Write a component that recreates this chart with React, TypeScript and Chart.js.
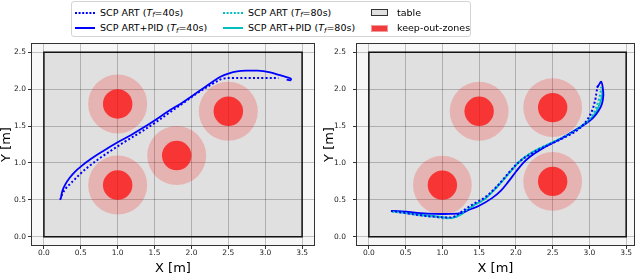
import React, { useEffect, useRef } from 'react';
import { Chart, registerables } from 'chart.js';
Chart.register(...registerables);

type Pt = [number, number];

// ---- axes / table ----
const X_TICKS = [0, 0.5, 1, 1.5, 2, 2.5, 3, 3.5];
const Y_TICKS = [0, 0.5, 1, 1.5, 2, 2.5];
const TABLE_X = [0, 3.5];
const TABLE_Y = [0, 2.5];

// ---- keep-out zones ----
const KOZ_INNER_R = 0.2;
const KOZ_OUTER_R = 0.4;
const LEFT_KOZ_X = [1.0, 1.0, 1.8, 2.5];
const LEFT_KOZ_Y = [1.8, 0.7, 1.1, 1.7];
const RIGHT_KOZ_X = [1.0, 1.5, 2.5, 2.5];
const RIGHT_KOZ_Y = [0.7, 1.7, 1.75, 0.75];

// ---- left panel trajectories ----
const LEFT_ART_40: Pt[] = [
  [0.22, 0.5], [0.25, 0.58], [0.3, 0.66], [0.36, 0.72], [0.42, 0.78], [0.5, 0.86], [0.63, 0.97],
  [0.78, 1.08], [0.93, 1.18], [1.1, 1.29], [1.3, 1.41], [1.5, 1.54], [1.7, 1.68], [1.9, 1.82],
  [2.1, 1.96], [2.3, 2.08], [2.42, 2.14], [2.55, 2.15], [2.8, 2.15], [3.0, 2.15], [3.18, 2.15],
];
const LEFT_PID_40: Pt[] = [
  [0.23, 0.52], [0.25, 0.62], [0.29, 0.71], [0.35, 0.8], [0.42, 0.88], [0.5, 0.95], [0.63, 1.05],
  [0.8, 1.16], [1.0, 1.28], [1.2, 1.39], [1.4, 1.51], [1.5, 1.575], [1.7, 1.71], [1.85, 1.8],
  [2.0, 1.9], [2.2, 2.04], [2.4, 2.17], [2.5, 2.21], [2.62, 2.24], [2.75, 2.25], [2.9, 2.25],
  [3.05, 2.23], [3.2, 2.19], [3.3, 2.16], [3.35, 2.14], [3.34, 2.12], [3.29, 2.13],
];

// ---- right panel trajectories ----
const RIGHT_ART_40: Pt[] = [
  [0.3, 0.35], [0.5, 0.32], [0.7, 0.29], [0.9, 0.27], [1.05, 0.26], [1.15, 0.27], [1.25, 0.33],
  [1.35, 0.4], [1.45, 0.46], [1.56, 0.52], [1.7, 0.64], [1.82, 0.77], [1.94, 0.91], [2.05, 1.02],
  [2.2, 1.12], [2.35, 1.2], [2.5, 1.27], [2.65, 1.34], [2.8, 1.42], [2.9, 1.5], [2.98, 1.6],
  [3.04, 1.72], [3.08, 1.86], [3.1, 1.98], [3.12, 2.05],
];
const RIGHT_PID_40: Pt[] = [
  [0.31, 0.35], [0.5, 0.34], [0.7, 0.32], [0.9, 0.31], [1.1, 0.31], [1.25, 0.32], [1.35, 0.36],
  [1.5, 0.42], [1.67, 0.52], [1.8, 0.63], [1.9, 0.75], [2.0, 0.88], [2.1, 1.0], [2.2, 1.09],
  [2.35, 1.19], [2.5, 1.27], [2.65, 1.35], [2.8, 1.44], [2.95, 1.53], [3.05, 1.61], [3.12, 1.7],
  [3.17, 1.8], [3.19, 1.92], [3.18, 2.03], [3.16, 2.1], [3.13, 2.06], [3.1, 2.02],
];
const RIGHT_ART_80: Pt[] = [
  [0.32, 0.34], [0.5, 0.32], [0.7, 0.29], [0.9, 0.27], [1.05, 0.25], [1.15, 0.26], [1.25, 0.31],
  [1.35, 0.38], [1.45, 0.44], [1.56, 0.5], [1.7, 0.63], [1.82, 0.76], [1.94, 0.9], [2.05, 1.02],
  [2.2, 1.13], [2.35, 1.21], [2.5, 1.28], [2.65, 1.35], [2.8, 1.43], [2.9, 1.5], [3.0, 1.59],
  [3.07, 1.7], [3.12, 1.83], [3.15, 1.95], [3.16, 2.03],
];
const RIGHT_PID_80: Pt[] = [
  [0.32, 0.35], [0.5, 0.33], [0.7, 0.3], [0.9, 0.28], [1.05, 0.26], [1.15, 0.26], [1.25, 0.3],
  [1.35, 0.37], [1.45, 0.44], [1.56, 0.5], [1.7, 0.63], [1.82, 0.76], [1.94, 0.9], [2.05, 1.02],
  [2.2, 1.13], [2.35, 1.21], [2.5, 1.28], [2.65, 1.35], [2.8, 1.44], [2.92, 1.52], [3.02, 1.6],
  [3.09, 1.69], [3.14, 1.8], [3.17, 1.9], [3.18, 2.0],
];

const BLUE = '#0000ff';
const CYAN = '#00bfbf';
const FONT = '"DejaVu Sans", sans-serif';

type LineSpec = { pts: Pt[]; color: string; dotted: boolean; order: number };
type PanelSpec = {
  kozX: number[];
  kozY: number[];
  lines: LineSpec[];
  xMin: number;
  xMax: number;
  yAxisWidth: number;
  yTitlePad: number;
  yTickPad: number;
};

function tableRect(chart: any) {
  const x = chart.scales.x, y = chart.scales.y;
  const x0 = x.getPixelForValue(TABLE_X[0]);
  const x1 = x.getPixelForValue(TABLE_X[1]);
  const y0 = y.getPixelForValue(TABLE_Y[0]);
  const y1 = y.getPixelForValue(TABLE_Y[1]);
  return { x0, x1, y0, y1 };
}

const framePlugin = {
  id: 'tableFrame',
  beforeDraw(chart: any) {
    const { ctx, chartArea: a } = chart;
    const { x0, x1, y0, y1 } = tableRect(chart);
    ctx.save();
    ctx.fillStyle = '#f7f7f7';
    ctx.fillRect(a.left, a.top, a.right - a.left, a.bottom - a.top);
    ctx.fillStyle = '#e0e0e0';
    ctx.fillRect(x0, y1, x1 - x0, y0 - y1);
    ctx.restore();
  },
  beforeDatasetsDraw(chart: any, _args: any, opts: any) {
    const { ctx, scales } = chart;
    const { x0, x1, y0, y1 } = tableRect(chart);
    ctx.save();
    ctx.strokeStyle = '#111';
    ctx.lineWidth = 1.5;
    ctx.strokeRect(x0, y1, x1 - x0, y0 - y1);
    // keep-out zones, positioned and sized through the chart's scales
    const kx: number[] = opts.kozX || [];
    const ky: number[] = opts.kozY || [];
    const sx = scales.x, sy = scales.y;
    const rpx = (r: number) => Math.abs(sx.getPixelForValue(r) - sx.getPixelForValue(0));
    const layers: [number, string][] = [
      [KOZ_OUTER_R, 'rgba(255,0,0,0.2)'],
      [KOZ_INNER_R, 'rgba(255,0,0,0.7)'],
    ];
    for (const [r, col] of layers) {
      ctx.fillStyle = col;
      kx.forEach((cx, i) => {
        ctx.beginPath();
        ctx.arc(sx.getPixelForValue(cx), sy.getPixelForValue(ky[i]), rpx(r), 0, Math.PI * 2);
        ctx.fill();
      });
    }
    ctx.restore();
  },
  afterDraw(chart: any) {
    const { ctx, chartArea: a } = chart;
    ctx.save();
    ctx.strokeStyle = '#333';
    ctx.lineWidth = 1;
    ctx.strokeRect(Math.round(a.left) + 0.5, Math.round(a.top) + 0.5, Math.round(a.right - a.left) - 1, Math.round(a.bottom - a.top) - 1);
    ctx.restore();
  },
};

function makeChart(canvas: HTMLCanvasElement, p: PanelSpec) {
  const datasets: any[] = p.lines.map((l) => ({
    type: 'line',
    data: l.pts.map(([x, y]) => ({ x, y })),
    borderColor: l.color,
    backgroundColor: l.color,
    borderWidth: l.dotted ? 2 : 1.8,
    borderDash: l.dotted ? [2, 2.2] : [],
    pointRadius: 0,
    showLine: true,
    fill: false,
    tension: 0.35,
    order: l.order,
  }));
  const tickFont = { family: FONT, size: 7.5, lineHeight: 1.1 };
  const titleFont = { family: FONT, size: 13, lineHeight: 1 };
  const grid = { color: 'rgba(0,0,0,0.22)', lineWidth: 1, tickLength: 3, tickColor: '#333', drawTicks: true };
  return new Chart(canvas, {
    type: 'scatter',
    data: { datasets },
    plugins: [framePlugin],
    options: {
      animation: false,
      responsive: false,
      devicePixelRatio: 1,
      events: [],
      layout: { autoPadding: false, padding: { left: 0, top: 43, right: 5, bottom: 0 } },
      plugins: {
        legend: { display: false },
        tooltip: { enabled: false },
        tableFrame: { kozX: p.kozX, kozY: p.kozY },
      },
      scales: {
        x: {
          type: 'linear',
          min: p.xMin,
          max: p.xMax,
          afterBuildTicks: (s: any) => { s.ticks = X_TICKS.map((v) => ({ value: v })); },
          afterFit: (s: any) => { s.height = 29; },
          grid,
          border: { display: false },
          ticks: { callback: (v: any) => Number(v).toFixed(1), font: tickFont, color: '#222', padding: 0, maxRotation: 0, autoSkip: false },
          title: { display: true, text: 'X [m]', font: titleFont, color: '#000', padding: { top: 0, bottom: 0 } },
        },
        y: {
          type: 'linear',
          min: -0.125,
          max: 2.625,
          afterBuildTicks: (s: any) => { s.ticks = Y_TICKS.map((v) => ({ value: v })); },
          afterFit: (s: any) => { s.width = p.yAxisWidth; },
          grid,
          border: { display: false },
          ticks: { callback: (v: any) => Number(v).toFixed(1), font: tickFont, color: '#222', padding: p.yTickPad, autoSkip: false },
          title: { display: true, text: 'Y [m]', font: titleFont, color: '#000', padding: { top: p.yTitlePad, bottom: 0 } },
        },
      },
    } as any,
  });
}

const LEFT_PANEL: PanelSpec = {
  kozX: LEFT_KOZ_X,
  kozY: LEFT_KOZ_Y,
  lines: [
    { pts: LEFT_ART_40, color: BLUE, dotted: true, order: 1 },
    { pts: LEFT_PID_40, color: BLUE, dotted: false, order: 2 },
  ],
  xMin: -0.175,
  xMax: 3.675,
  yAxisWidth: 31,
  yTitlePad: 0,
  yTickPad: 2,
};

const RIGHT_PANEL: PanelSpec = {
  kozX: RIGHT_KOZ_X,
  kozY: RIGHT_KOZ_Y,
  lines: [
    { pts: RIGHT_ART_40, color: BLUE, dotted: true, order: 1 },
    { pts: RIGHT_ART_80, color: CYAN, dotted: true, order: 2 },
    { pts: RIGHT_PID_40, color: BLUE, dotted: false, order: 3 },
    { pts: RIGHT_PID_80, color: CYAN, dotted: false, order: 4 },
  ],
  xMin: -0.175,
  xMax: 3.62,
  yAxisWidth: 36,
  yTitlePad: 3.5,
  yTickPad: 7,
};

function Panel({ spec, left }: { spec: PanelSpec; left: number }) {
  const ref = useRef<HTMLCanvasElement>(null);
  useEffect(() => {
    if (!ref.current) return;
    const c = makeChart(ref.current, spec);
    return () => c.destroy();
  }, [spec]);
  return (
    <canvas
      ref={ref}
      width={320}
      height={275}
      style={{ position: 'absolute', left, top: 0, width: 320, height: 275 }}
    />
  );
}

const Tf = ({ s }: { s: string }) => (
  <span>
    (<i>T</i>
    <i style={{ fontSize: '0.72em', position: 'relative', top: '0.25em' }}>f</i>={s})
  </span>
);

function LineSample({ color, dotted }: { color: string; dotted: boolean }) {
  return (
    <svg width={20} height={6} style={{ position: 'absolute', left: 0, top: -3 }}>
      <line x1={0} y1={3} x2={20} y2={3} stroke={color} strokeWidth={2} strokeDasharray={dotted ? '2 1.6' : undefined} />
    </svg>
  );
}

function Legend() {
  const row = (top: number): React.CSSProperties => ({ position: 'absolute', top, height: 0 });
  const text: React.CSSProperties = { position: 'absolute', top: -6, left: 0, whiteSpace: 'nowrap', lineHeight: '12px' };
  return (
    <div
      style={{
        position: 'absolute', left: 71, top: 1, width: 400, height: 36, boxSizing: 'border-box',
        border: '1px solid #d4d4d4', borderRadius: 3, background: '#fff',
        fontFamily: FONT, fontSize: 9.5, color: '#000',
      }}
    >
      <div style={{ ...row(10.5), left: 3 }}><LineSample color={BLUE} dotted /></div>
      <div style={{ ...row(10.5), left: 28 }}><span style={text}>SCP ART <Tf s="40s" /></span></div>
      <div style={{ ...row(26), left: 3 }}><LineSample color={BLUE} dotted={false} /></div>
      <div style={{ ...row(26), left: 28 }}><span style={text}>SCP ART+PID <Tf s="40s" /></span></div>

      <div style={{ ...row(10.5), left: 151 }}><LineSample color={CYAN} dotted /></div>
      <div style={{ ...row(10.5), left: 176 }}><span style={text}>SCP ART <Tf s="80s" /></span></div>
      <div style={{ ...row(26), left: 151 }}><LineSample color={CYAN} dotted={false} /></div>
      <div style={{ ...row(26), left: 176 }}><span style={text}>SCP ART+PID <Tf s="80s" /></span></div>

      <div style={{ ...row(10.5), left: 299 }}>
        <div style={{ position: 'absolute', top: -3.5, left: 0, width: 17, height: 7, boxSizing: 'border-box', background: '#e0e0e0', border: '1px solid #333' }} />
      </div>
      <div style={{ ...row(10.5), left: 325 }}><span style={text}>table</span></div>
      <div style={{ ...row(26), left: 299 }}>
        <div style={{ position: 'absolute', top: -3.5, left: 0, width: 17, height: 7, boxSizing: 'border-box', background: '#f03c3c', border: '1px solid #f29a9a' }} />
      </div>
      <div style={{ ...row(26), left: 325 }}><span style={text}>keep-out-zones</span></div>
    </div>
  );
}

export default function App() {
  return (
    <div style={{ position: 'fixed', left: 0, top: 0, width: 640, height: 275, background: '#fff', overflow: 'hidden' }}>
      <Panel spec={LEFT_PANEL} left={0} />
      <Panel spec={RIGHT_PANEL} left={320} />
      <Legend />
    </div>
  );
}
